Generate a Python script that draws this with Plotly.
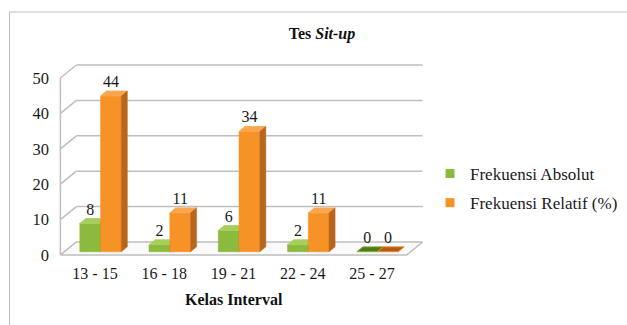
import plotly.graph_objects as go

# ---------------- data ----------------
categories = ["13 - 15", "16 - 18", "19 - 21", "22 - 24", "25 - 27"]
frek_absolut = [8, 2, 6, 2, 0]
frek_relatif = [44, 11, 34, 11, 0]
y_ticks = [0, 10, 20, 30, 40, 50]
series_names = ["Frekuensi Absolut", "Frekuensi Relatif (%)"]
chart_title = "<b>Tes <i>Sit-up</i></b>"
x_title = "<b>Kelas Interval</b>"

# ---------------- style / geometry ----------------
FONT = "'Liberation Serif', 'Times New Roman', Times, serif"
W, H = 627, 325
PL, PR, PT, PB = 50, 440, 50, 262          # plot area in px
CX0, CXS = 95.0, 69.25                      # px of first category, px per category
Y0, YS = 255.0, 3.54                        # px of value 0, px per unit
x_range = [(PL - CX0) / CXS, (PR - CX0) / CXS]
y_range = [(Y0 - PB) / YS, (Y0 - PT) / YS]
DX, DY = 16 / CXS, 13 / YS                  # depth of the 3D box in data units
BW = 0.3                                    # bar width
OX, OY = 0.08, 0.9                          # bar front-plane offset
BDX, BDY = 0.087, 1.41                      # bar depth
GRID = "#BEBEBE"
TXT = "#1a1a1a"

styles = [
    dict(front="#8CBA3E", top="#A6CF5C", side="#5F8A25", flat="#4E7A1E"),
    dict(front="#F79226", top="#F9A64E", side="#B8661B", flat="#B05C16"),
]
series_values = [frek_absolut, frek_relatif]

fig = go.Figure()
shapes = []

# floor
x_lo, x_hi = -0.5, len(categories) - 0.5
fig.add_trace(go.Scatter(
    x=[x_lo, x_hi, x_hi + DX, x_lo + DX, x_lo],
    y=[0, 0, DY, DY, 0],
    mode="lines", fill="toself", fillcolor="#FAFAFA",
    line=dict(color=GRID, width=1.5), hoverinfo="skip", showlegend=False))

# back wall gridlines and left wall diagonals
for v in y_ticks:
    if v > 0:
        shapes.append(dict(type="line", xref="x", yref="y", layer="below",
                           x0=x_lo + DX, x1=x_hi + DX, y0=v + DY, y1=v + DY,
                           line=dict(color=GRID, width=1.5)))
    shapes.append(dict(type="line", xref="x", yref="y", layer="below",
                       x0=x_lo, x1=x_lo + DX, y0=v, y1=v + DY,
                       line=dict(color=GRID, width=1.5)))
shapes.append(dict(type="line", xref="x", yref="y", layer="below",
                   x0=x_lo, x1=x_lo, y0=y_ticks[0], y1=y_ticks[-1],
                   line=dict(color=GRID, width=1.5)))

# bars (front, top, side faces)
label_x, label_y, label_t = [], [], []
for s, vals in enumerate(series_values):
    st = styles[s]
    for i, v in enumerate(vals):
        xl = i + OX - BW + s * BW
        xr = xl + BW
        b = OY
        t = OY + v
        if v > 0:
            fig.add_trace(go.Scatter(
                x=[xl, xr, xr, xl, xl], y=[b, b, t, t, b],
                mode="lines", fill="toself", fillcolor=st["front"],
                line=dict(color=st["front"], width=0.5),
                hoverinfo="skip", showlegend=False))
        fig.add_trace(go.Scatter(
            x=[xl, xr, xr + BDX, xl + BDX, xl], y=[t, t, t + BDY, t + BDY, t],
            mode="lines", fill="toself",
            fillcolor=st["top"] if v > 0 else st["flat"],
            line=dict(color=st["top"] if v > 0 else st["front"], width=0.8),
            hoverinfo="skip", showlegend=False))
        if v > 0:
            fig.add_trace(go.Scatter(
                x=[xr, xr + BDX, xr + BDX, xr, xr], y=[b, b + BDY, t + BDY, t, b],
                mode="lines", fill="toself", fillcolor=st["side"],
                line=dict(color=st["side"], width=0.5),
                hoverinfo="skip", showlegend=False))
        label_x.append(xl + BW / 2)
        label_y.append(t + BDY)
        label_t.append(str(v))

fig.add_trace(go.Scatter(
    x=label_x, y=label_y, text=label_t, mode="text",
    textposition="top center",
    textfont=dict(family=FONT, size=16, color=TXT),
    hoverinfo="skip", showlegend=False, cliponaxis=False))

# legend entries
for s, name in enumerate(series_names):
    fig.add_trace(go.Scatter(
        x=[None], y=[None], mode="markers", name=name, legendgroup=name,
        marker=dict(symbol="square", size=9, color=styles[s]["front"])))

# chart border
shapes.append(dict(type="rect", xref="paper", yref="paper", layer="below",
                   x0=(9.5 - PL) / (PR - PL), x1=(660 - PL) / (PR - PL),
                   y0=(PB - 12) / (PB - PT), y1=(PB - 360) / (PB - PT),
                   line=dict(color="#BDBDBD", width=1), fillcolor="rgba(0,0,0,0)"))

fig.update_layout(
    width=W, height=H,
    margin=dict(l=PL, r=W - PR, t=PT, b=H - PB, autoexpand=False),
    paper_bgcolor="white", plot_bgcolor="white",
    shapes=shapes,
    title=dict(text=chart_title, x=322 / W, xref="container", xanchor="center",
               y=(H - 33) / H, yref="container", yanchor="middle",
               font=dict(family=FONT, size=16, color="#111")),
    xaxis=dict(range=x_range, tickvals=list(range(len(categories))), ticktext=categories,
               showgrid=False, zeroline=False, showline=False, ticks="",
               automargin=False,
               tickfont=dict(family=FONT, size=16, color=TXT)),
    yaxis=dict(range=y_range, tickvals=y_ticks, showgrid=False, zeroline=False,
               showline=False, ticks="", automargin=False,
               tickfont=dict(family=FONT, size=16.5, color=TXT)),
    legend=dict(x=(430 - PL) / (PR - PL), xanchor="left",
                y=(PB - 156) / (PB - PT), yanchor="top",
                traceorder="grouped", tracegroupgap=4,
                font=dict(family=FONT, size=17, color=TXT),
                bgcolor="rgba(0,0,0,0)"),
    annotations=[dict(text=x_title, x=(len(categories) - 1) / 2, xref="x",
                      y=(PB - 299) / (PB - PT), yref="paper", yanchor="middle",
                      showarrow=False, font=dict(family=FONT, size=16, color="#111"))],
)

fig.write_html("out.html")
